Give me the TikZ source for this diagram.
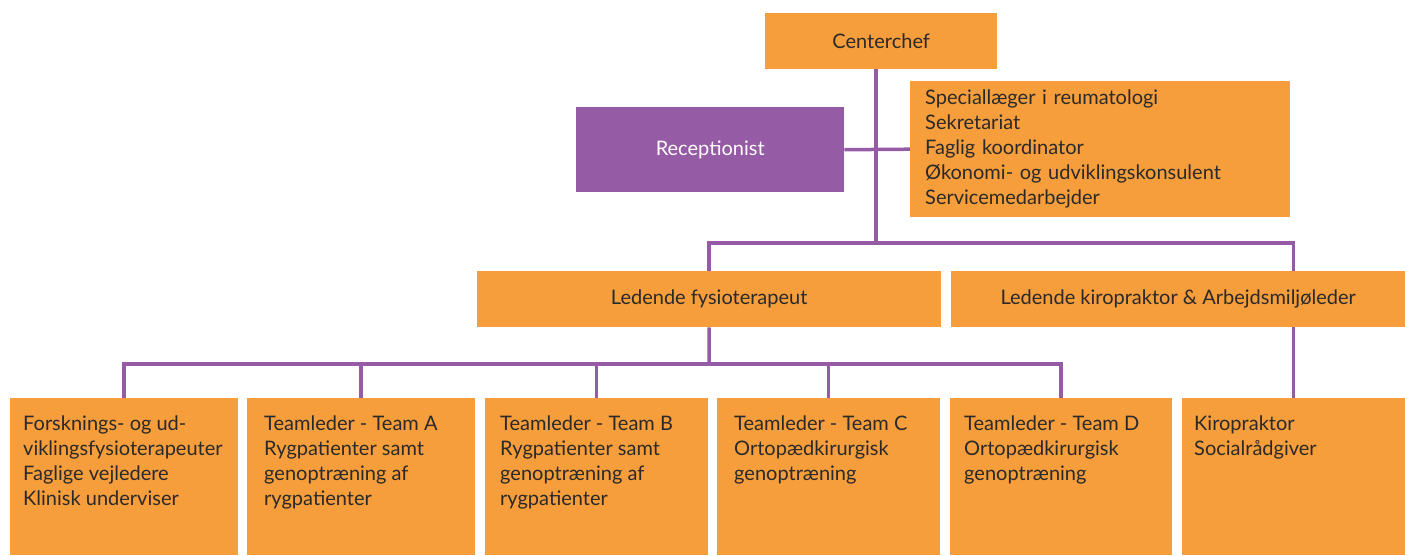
\documentclass[tikz,border=0pt]{standalone}
\usepackage{fontspec}
\setmainfont{Lato}
\usepackage{tikz}
\usetikzlibrary{positioning,backgrounds}
\definecolor{boxorange}{HTML}{F69D3C}
\definecolor{linepurple}{HTML}{955BA5}
\definecolor{textdark}{HTML}{2B2A29}
\tikzset{
    basic/.style = {rectangle, inner sep=0pt, anchor=north west, font=\fontsize{20}{25}\selectfont},
    unit/.style = {basic, fill=boxorange, text=textdark},
    staff/.style = {basic, fill=linepurple, text=white},
    listbox/.style = {unit, align=left, inner xsep=15pt},
    team/.style = {unit, minimum height=157pt},
    team text/.style = {anchor=north west, align=left, inner sep=0pt, text=textdark, font=\fontsize{20}{25}\selectfont},
    link/.style = {draw=linepurple, line width=3.5pt}
}

\begin{document}
\begin{tikzpicture}[x=1pt, y=-1pt]
    \useasboundingbox (0,0) rectangle (1405,555);
    \node[unit, minimum width=232pt, minimum height=56pt] (chef) at (765,13) {Centerchef};
    \node[staff, minimum width=268pt, minimum height=85pt] (recep) at (576,107) {Receptionist};
    \node[listbox, text width=350pt, minimum height=136pt] (support) at (910,81)
        {Speciallæger i reumatologi\\Sekretariat\\Faglig koordinator\\Økonomi- og udviklingskonsulent\\Servicemedarbejder};
    \node[unit, minimum width=464pt, minimum height=56pt] (fysio) at (477,271) {Ledende fysioterapeut};
    \node[unit, minimum width=454pt, minimum height=56pt] (kiroleder) at (951,271) {Ledende kiropraktor \& Arbejdsmiljøleder};

    \node[team, minimum width=228pt] (forsk) at (10,398) {};
    \node[team, minimum width=228pt] (teamA) at (247,398) {};
    \node[team, minimum width=223pt] (teamB) at (485,398) {};
    \node[team, minimum width=223pt] (teamC) at (717,398) {};
    \node[team, minimum width=222pt] (teamD) at (950,398) {};
    \node[team, minimum width=223pt] (kiro) at (1182,398) {};

    \node[team text] (forsk text) at ([shift={(13pt,-18pt)}]forsk.north west)
        {Forsknings- og ud-\\viklingsfysioterapeuter\\Faglige vejledere\\Klinisk underviser};
    \node[team text] (teamA text) at ([shift={(17pt,-18pt)}]teamA.north west)
        {Teamleder - Team A\\Rygpatienter samt\\genoptræning af\\rygpatienter};
    \node[team text] (teamB text) at ([shift={(15pt,-18pt)}]teamB.north west)
        {Teamleder - Team B\\Rygpatienter samt\\genoptræning af\\rygpatienter};
    \node[team text] (teamC text) at ([shift={(17pt,-18pt)}]teamC.north west)
        {Teamleder - Team C\\Ortopædkirurgisk\\genoptræning};
    \node[team text] (teamD text) at ([shift={(14pt,-18pt)}]teamD.north west)
        {Teamleder - Team D\\Ortopædkirurgisk\\genoptræning};
    \node[team text] (kiro text) at ([shift={(12pt,-18pt)}]kiro.north west)
        {Kiropraktor\\Socialrådgiver};

    \begin{scope}[on background layer]
        \coordinate (hub) at (876,243);
        \coordinate (bar) at (709,364);
        \draw[link] (chef.south -| hub) -- (hub);
        \draw[link] (recep.east) -- (support.west);
        \draw[link] (fysio.north) |- (hub) -| (kiro.north);
        \draw[link] (fysio.south) -- (bar);
        \draw[link] (forsk.north) |- (bar) -| (teamD.north);
        \draw[link] (teamA.north) -- (teamA.north |- bar);
        \draw[link] (teamB.north) -- (teamB.north |- bar);
        \draw[link] (teamC.north) -- (teamC.north |- bar);
    \end{scope}
\end{tikzpicture}
\end{document}
